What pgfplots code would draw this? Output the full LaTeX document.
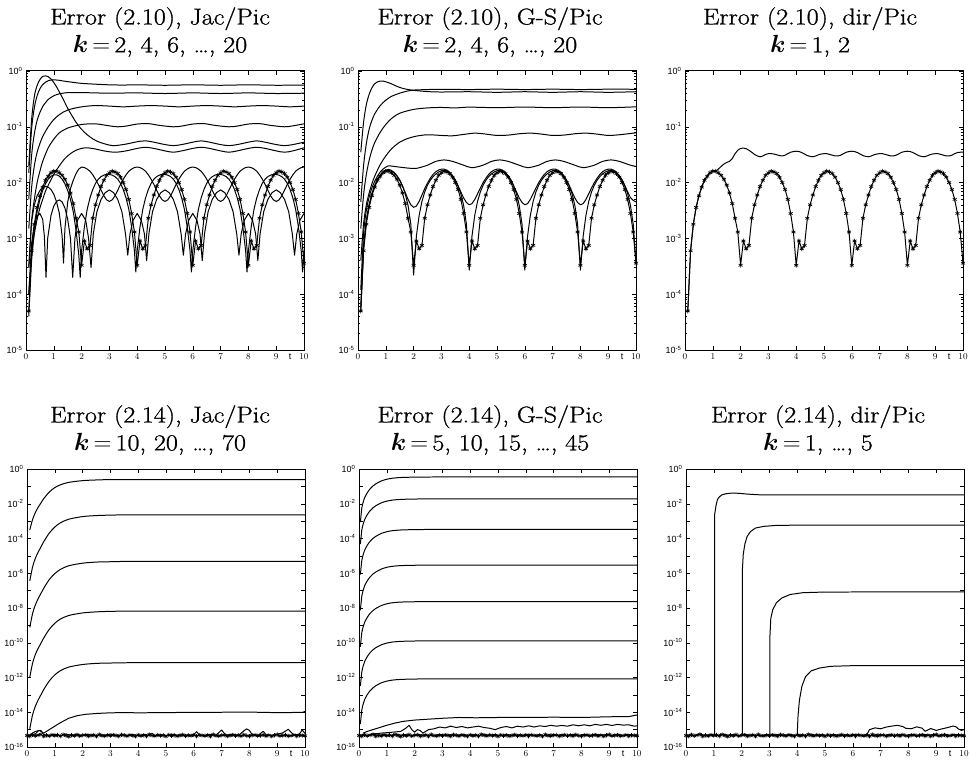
\documentclass[border=0pt]{standalone}
\usepackage{amsmath}
\usepackage{fontspec}
\newfontfamily\ticksans{Liberation Sans}
\newfontfamily\titlefont[FakeStretch=1.14, FakeBold=1.0]{Latin Modern Roman}
\usepackage{pgfplots}
\usepackage{pgfplotstable}
\pgfplotsset{compat=1.18}

% decade label, MATLAB style
\newcommand{\ex}[1]{10\textsuperscript{#1}}
\newcommand{\kk}{$\boldsymbol{k}\,{=}\,$}

\pgfplotsset{
  errpanel/.style={
    scale only axis, width=278bp,
    xmin=0, xmax=10,
    xtick={0,1,2,3,4,5,6,7,8,9,10},
    extra x ticks={9.5}, extra x tick labels={t},
    extra x tick style={major tick length=0pt},
    tick align=inside, xtick pos=both, ytick pos=both,
    major tick length=4bp, minor tick length=2bp,
    tick style={black, line width=0.5pt},
    axis line style={line width=1pt},
    tick label style={font=\ticksans\fontsize{9}{10}\selectfont},
    title style={at={(0.5,1)}, anchor=south, yshift=8bp, inner sep=0pt,
                 font=\titlefont\fontsize{23}{28}\selectfont, align=center},
  },
  errtop/.style={errpanel, height=279bp,
    ymin=1e-5, ymax=1,
    ytick={1e-5,1e-4,1e-3,1e-2,1e-1,1},
    yticklabels={\ex{-5},\ex{-4},\ex{-3},\ex{-2},\ex{-1},\ex{0}},
    minor ytick={2e-5,3e-5,4e-5,5e-5,6e-5,7e-5,8e-5,9e-5,
                 2e-4,3e-4,4e-4,5e-4,6e-4,7e-4,8e-4,9e-4,
                 2e-3,3e-3,4e-3,5e-3,6e-3,7e-3,8e-3,9e-3,
                 2e-2,3e-2,4e-2,5e-2,6e-2,7e-2,8e-2,9e-2,
                 0.2,0.3,0.4,0.5,0.6,0.7,0.8,0.9},
  },
  errbot/.style={errpanel, height=278bp,
    ymin=1e-16, ymax=1,
    ytick={1e-16,1e-15,1e-14,1e-13,1e-12,1e-11,1e-10,1e-9,1e-8,1e-7,1e-6,1e-5,1e-4,1e-3,1e-2,1e-1,1},
    yticklabels={\ex{-16},{},\ex{-14},{},\ex{-12},{},\ex{-10},{},\ex{-8},{},\ex{-6},{},\ex{-4},{},\ex{-2},{},\ex{0}},
    yminorticks=false,
  },
  crv/.style={black, line width=1pt, line join=round, no markers},
  starcrv/.style={black, line width=1pt, mark=asterisk, mark size=2.3pt,
                  mark options={line width=0.65pt}},
  noisestar/.style={black, line width=1pt, mark=asterisk, mark size=2.1pt,
                  mark options={line width=0.7pt}},
}

% limit error of the periodic solution, (2.10)
\pgfplotstableread{
t e
0.1 5e-5
0.2 6e-4
0.3 1.8e-3
0.4 3.6e-3
0.5 5.8e-3
0.6 8.3e-3
0.7 1.1e-2
0.8 1.3e-2
0.9 1.5e-2
1.0 1.6e-2
1.1 1.6e-2
1.2 1.5e-2
1.3 1.35e-2
1.4 1.15e-2
1.5 9e-3
1.6 6.5e-3
1.7 4.2e-3
1.8 2.3e-3
1.9 1.3e-3
2.0 3.3e-4
2.1 9e-4
2.2 6.5e-4
2.3 7.5e-4
2.4 2.3e-3
2.5 4.0e-3
2.6 6.0e-3
2.7 8.5e-3
2.8 1.1e-2
2.9 1.35e-2
3.0 1.5e-2
3.1 1.6e-2
3.2 1.55e-2
3.3 1.45e-2
3.4 1.25e-2
3.5 1.0e-2
3.6 7.5e-3
3.7 5.0e-3
3.8 2.8e-3
3.9 1.3e-3
4.0 3.3e-4
4.1 9e-4
4.2 6.5e-4
4.3 7.5e-4
4.4 2.3e-3
4.5 4.0e-3
4.6 6.0e-3
4.7 8.5e-3
4.8 1.1e-2
4.9 1.35e-2
5.0 1.5e-2
5.1 1.6e-2
5.2 1.55e-2
5.3 1.45e-2
5.4 1.25e-2
5.5 1.0e-2
5.6 7.5e-3
5.7 5.0e-3
5.8 2.8e-3
5.9 1.3e-3
6.0 3.3e-4
6.1 9e-4
6.2 6.5e-4
6.3 7.5e-4
6.4 2.3e-3
6.5 4.0e-3
6.6 6.0e-3
6.7 8.5e-3
6.8 1.1e-2
6.9 1.35e-2
7.0 1.5e-2
7.1 1.6e-2
7.2 1.55e-2
7.3 1.45e-2
7.4 1.25e-2
7.5 1.0e-2
7.6 7.5e-3
7.7 5.0e-3
7.8 2.8e-3
7.9 1.3e-3
8.0 3.3e-4
8.1 9e-4
8.2 6.5e-4
8.3 7.5e-4
8.4 2.3e-3
8.5 4.0e-3
8.6 6.0e-3
8.7 8.5e-3
8.8 1.1e-2
8.9 1.35e-2
9.0 1.5e-2
9.1 1.6e-2
9.2 1.55e-2
9.3 1.45e-2
9.4 1.25e-2
9.5 1.0e-2
9.6 7.5e-3
9.7 5.0e-3
9.8 2.8e-3
9.9 1.3e-3
10.0 3.6e-4
}\starerr

% round-off floor, (2.14)
\pgfplotstableread{
t e
0.0 4.6e-16
0.1 4.2e-16
0.2 5.1e-16
0.3 4.4e-16
0.4 4.8e-16
0.5 5.3e-16
0.6 4.1e-16
0.7 4.7e-16
0.8 4.3e-16
0.9 5.0e-16
1.0 4.5e-16
1.1 4.9e-16
1.2 4.2e-16
1.3 5.2e-16
1.4 4.6e-16
1.5 4.0e-16
1.6 4.8e-16
1.7 4.4e-16
1.8 5.1e-16
1.9 4.3e-16
2.0 4.7e-16
2.1 5.0e-16
2.2 4.2e-16
2.3 4.6e-16
2.4 4.9e-16
2.5 4.1e-16
2.6 5.2e-16
2.7 4.5e-16
2.8 4.3e-16
2.9 4.8e-16
3.0 4.4e-16
3.1 5.0e-16
3.2 4.6e-16
3.3 4.2e-16
3.4 5.1e-16
3.5 4.7e-16
3.6 4.3e-16
3.7 4.9e-16
3.8 4.5e-16
3.9 4.1e-16
4.0 5.0e-16
4.1 4.4e-16
4.2 4.8e-16
4.3 4.2e-16
4.4 5.3e-16
4.5 4.6e-16
4.6 4.3e-16
4.7 4.9e-16
4.8 4.5e-16
4.9 4.7e-16
5.0 4.1e-16
5.1 5.0e-16
5.2 4.4e-16
5.3 4.8e-16
5.4 4.2e-16
5.5 4.6e-16
5.6 5.1e-16
5.7 4.3e-16
5.8 4.7e-16
5.9 4.5e-16
6.0 4.9e-16
6.1 4.2e-16
6.2 5.0e-16
6.3 4.6e-16
6.4 4.4e-16
6.5 4.8e-16
6.6 4.1e-16
6.7 5.2e-16
6.8 4.5e-16
6.9 4.3e-16
7.0 4.7e-16
7.1 4.9e-16
7.2 4.2e-16
7.3 4.6e-16
7.4 5.0e-16
7.5 4.4e-16
7.6 4.8e-16
7.7 4.3e-16
7.8 5.1e-16
7.9 4.5e-16
8.0 4.2e-16
8.1 4.7e-16
8.2 4.9e-16
8.3 4.4e-16
8.4 4.6e-16
8.5 5.0e-16
8.6 4.3e-16
8.7 4.8e-16
8.8 4.1e-16
8.9 4.7e-16
9.0 5.2e-16
9.1 4.4e-16
9.2 4.6e-16
9.3 4.9e-16
9.4 4.3e-16
9.5 4.5e-16
9.6 5.0e-16
9.7 4.2e-16
9.8 4.8e-16
9.9 4.6e-16
10.0 4.4e-16
}\floorerr

\pgfplotstableread{
t e
0.1 5.2e-16
0.3 4.5e-16
0.5 5.6e-16
0.7 4.6e-16
0.9 5.3e-16
1.1 4.4e-16
1.3 5.5e-16
1.5 4.8e-16
1.7 5.2e-16
1.9 4.4e-16
2.1 5.6e-16
2.3 4.6e-16
2.5 5.0e-16
2.7 4.5e-16
2.9 5.4e-16
3.1 4.7e-16
3.3 5.2e-16
3.5 4.4e-16
3.7 5.5e-16
3.9 4.8e-16
4.1 5.1e-16
4.3 4.5e-16
4.5 5.6e-16
4.7 4.6e-16
4.9 5.3e-16
5.1 4.4e-16
5.3 5.4e-16
5.5 4.7e-16
5.7 5.1e-16
5.9 4.5e-16
6.1 5.5e-16
6.3 4.6e-16
6.5 5.2e-16
6.7 4.4e-16
6.9 5.6e-16
7.1 4.7e-16
7.3 5.1e-16
7.5 4.5e-16
7.7 5.4e-16
7.9 4.6e-16
8.1 5.3e-16
8.3 4.4e-16
8.5 5.5e-16
8.7 4.8e-16
8.9 5.2e-16
9.1 4.5e-16
9.3 5.6e-16
9.5 4.6e-16
9.7 5.3e-16
9.9 4.7e-16
10.0 5.0e-16
}\floorline

\begin{document}
\begin{tikzpicture}
\useasboundingbox (0,0) rectangle (970bp,762bp);

%================ (2.10) Jacobi ================
\begin{axis}[errtop, ymode=log, at={(26bp,412bp)}, anchor=south west,
  title={Error (2.10), Jac/Pic\\\kk 2, 4, 6, \ldots, 20},
  title style={xshift=-5bp}]
\addplot[crv, smooth] coordinates {(0.1,1.5e-2)(0.2,0.09)(0.3,0.22)(0.4,0.36)(0.5,0.48)(0.6,0.57)(0.7,0.63)(0.8,0.67)(0.9,0.69)(1.0,0.695)(1.2,0.68)(1.4,0.655)(1.7,0.625)(2.0,0.6)(2.5,0.58)(3.0,0.565)(3.5,0.56)(4,0.565)(5,0.555)(6,0.565)(7,0.555)(8,0.565)(9,0.555)(10,0.56)};
\addplot[crv, smooth] coordinates {(0.1,5e-3)(0.2,0.03)(0.3,0.075)(0.4,0.13)(0.5,0.18)(0.6,0.23)(0.7,0.27)(0.8,0.31)(1.0,0.36)(1.2,0.39)(1.5,0.41)(2.0,0.41)(2.5,0.405)(3,0.4)(4,0.405)(5,0.395)(6,0.405)(7,0.395)(8,0.405)(9,0.395)(10,0.4)};
\addplot[crv, smooth] coordinates {(0.1,1.5e-3)(0.2,8e-3)(0.3,0.02)(0.4,0.035)(0.5,0.05)(0.6,0.067)(0.8,0.1)(1.0,0.135)(1.2,0.165)(1.5,0.2)(2.0,0.228)(2.5,0.24)(3.0,0.235)(3.5,0.228)(4.0,0.235)(4.5,0.24)(5.0,0.235)(5.5,0.228)(6,0.235)(6.5,0.24)(7,0.235)(7.5,0.228)(8,0.235)(8.5,0.24)(9,0.235)(9.5,0.228)(10,0.235)};
\addplot[crv, smooth] coordinates {(0.1,3e-4)(0.2,2e-3)(0.3,5e-3)(0.4,0.01)(0.5,0.016)(0.6,0.024)(0.8,0.042)(1.0,0.06)(1.2,0.078)(1.5,0.095)(2.0,0.11)(2.5,0.113)(3.0,0.104)(3.3,0.1)(3.6,0.103)(4.0,0.112)(4.4,0.114)(4.8,0.106)(5.3,0.1)(5.6,0.103)(6.0,0.112)(6.4,0.114)(6.8,0.106)(7.3,0.1)(7.6,0.103)(8.0,0.112)(8.4,0.114)(8.8,0.106)(9.3,0.1)(9.6,0.104)(10,0.113)};
\addplot[crv, smooth] coordinates {(0.1,0.02)(0.2,0.13)(0.3,0.35)(0.4,0.55)(0.5,0.7)(0.6,0.8)(0.7,0.82)(0.8,0.79)(0.9,0.72)(1.0,0.62)(1.1,0.52)(1.2,0.42)(1.3,0.34)(1.4,0.27)(1.5,0.215)(1.6,0.175)(1.7,0.145)(1.8,0.12)(2.0,0.09)(2.2,0.072)(2.4,0.061)(2.6,0.054)(2.8,0.05)(3.0,0.047)(3.2,0.046)(3.6,0.049)(4.0,0.054)(4.3,0.056)(4.6,0.053)(5.0,0.048)(5.3,0.046)(5.6,0.048)(6.0,0.053)(6.3,0.056)(6.6,0.053)(7.0,0.048)(7.3,0.046)(7.6,0.048)(8.0,0.053)(8.3,0.056)(8.6,0.053)(9.0,0.048)(9.3,0.046)(9.6,0.048)(10,0.053)};
\addplot[crv, smooth] coordinates {(0.1,1e-4)(0.2,5e-4)(0.3,1.2e-3)(0.4,2.2e-3)(0.5,3.5e-3)(0.6,5e-3)(0.7,7e-3)(0.8,9e-3)(1.0,0.014)(1.2,0.02)(1.4,0.027)(1.6,0.033)(1.8,0.038)(2.0,0.041)(2.2,0.042)(2.5,0.04)(2.8,0.037)(3.2,0.035)(3.6,0.037)(4.0,0.041)(4.3,0.043)(4.6,0.041)(5.0,0.037)(5.3,0.035)(5.6,0.037)(6.0,0.041)(6.3,0.043)(6.6,0.041)(7.0,0.037)(7.3,0.035)(7.6,0.037)(8.0,0.041)(8.3,0.043)(8.6,0.041)(9.0,0.037)(9.3,0.035)(9.6,0.037)(10,0.042)};
\addplot[crv] coordinates {(0.1,3e-4)(0.2,2e-3)(0.3,4e-3)(0.4,5.8e-3)(0.5,7.2e-3)(0.6,8.2e-3)(0.7,8.5e-3)(0.8,8.3e-3)(0.9,7.5e-3)(1.0,6.2e-3)(1.1,4.5e-3)(1.2,2.8e-3)(1.3,1.1e-3)(1.35,3.6e-4)(1.4,1.5e-3)(1.5,4.5e-3)(1.6,7.8e-3)(1.7,0.011)(1.8,0.0145)(1.9,0.0175)(2.0,0.019)
(2.1,0.0186)(2.2,0.0175)(2.3,0.016)(2.4,0.0138)(2.5,0.0115)(2.6,0.0093)(2.7,0.0073)(2.8,0.0058)(2.9,0.0049)(3.0,0.0046)(3.1,0.0049)(3.2,0.0058)(3.3,0.0073)(3.4,0.0093)(3.5,0.0115)(3.6,0.0138)(3.7,0.016)(3.8,0.0175)(3.9,0.0186)(4.0,0.019)
(4.1,0.0186)(4.2,0.0175)(4.3,0.016)(4.4,0.0138)(4.5,0.0115)(4.6,0.0093)(4.7,0.0073)(4.8,0.0058)(4.9,0.0049)(5.0,0.0046)(5.1,0.0049)(5.2,0.0058)(5.3,0.0073)(5.4,0.0093)(5.5,0.0115)(5.6,0.0138)(5.7,0.016)(5.8,0.0175)(5.9,0.0186)(6.0,0.019)
(6.1,0.0186)(6.2,0.0175)(6.3,0.016)(6.4,0.0138)(6.5,0.0115)(6.6,0.0093)(6.7,0.0073)(6.8,0.0058)(6.9,0.0049)(7.0,0.0046)(7.1,0.0049)(7.2,0.0058)(7.3,0.0073)(7.4,0.0093)(7.5,0.0115)(7.6,0.0138)(7.7,0.016)(7.8,0.0175)(7.9,0.0186)(8.0,0.019)
(8.1,0.0186)(8.2,0.0175)(8.3,0.016)(8.4,0.0138)(8.5,0.0115)(8.6,0.0093)(8.7,0.0073)(8.8,0.0058)(8.9,0.0049)(9.0,0.0046)(9.1,0.0049)(9.2,0.0058)(9.3,0.0073)(9.4,0.0093)(9.5,0.0115)(9.6,0.0138)(9.7,0.016)(9.8,0.0175)(9.9,0.0186)(10.0,0.019)};
\addplot[crv] coordinates {(0.1,1e-4)(0.2,8e-4)(0.3,1.8e-3)(0.4,2.5e-3)(0.5,2.8e-3)(0.6,2.2e-3)(0.66,1.1e-3)(0.72,2e-4)(0.78,1e-3)(0.9,2.6e-3)(1.0,3.8e-3)(1.1,4.6e-3)(1.2,4.9e-3)(1.3,4.5e-3)(1.4,3.5e-3)(1.5,2.2e-3)(1.6,1e-3)(1.68,2e-4)(1.76,1e-3)(1.85,2.1e-3)(2.0,2.8e-3)(2.15,2.1e-3)(2.25,1e-3)(2.34,3e-4)
(2.42,1.2e-3)(2.55,3e-3)(2.7,5e-3)(2.85,6.6e-3)(3.0,7.4e-3)(3.15,6.6e-3)(3.3,5e-3)(3.45,3e-3)(3.58,1.2e-3)(3.66,5e-4)(3.74,1.2e-3)(3.85,2.1e-3)(4.0,2.8e-3)(4.15,2.1e-3)(4.26,1.2e-3)(4.34,4e-4)
(4.42,1.2e-3)(4.55,3e-3)(4.7,5e-3)(4.85,6.6e-3)(5.0,7.4e-3)(5.15,6.6e-3)(5.3,5e-3)(5.45,3e-3)(5.58,1.2e-3)(5.66,5e-4)(5.74,1.2e-3)(5.85,2.1e-3)(6.0,2.8e-3)(6.15,2.1e-3)(6.26,1.2e-3)(6.34,4e-4)
(6.42,1.2e-3)(6.55,3e-3)(6.7,5e-3)(6.85,6.6e-3)(7.0,7.4e-3)(7.15,6.6e-3)(7.3,5e-3)(7.45,3e-3)(7.58,1.2e-3)(7.66,5e-4)(7.74,1.2e-3)(7.85,2.1e-3)(8.0,2.8e-3)(8.15,2.1e-3)(8.26,1.2e-3)(8.34,4e-4)
(8.42,1.2e-3)(8.55,3e-3)(8.7,5e-3)(8.85,6.6e-3)(9.0,7.4e-3)(9.15,6.6e-3)(9.3,5e-3)(9.45,3e-3)(9.58,1.2e-3)(9.66,5e-4)(9.74,1.2e-3)(9.85,2.1e-3)(10.0,2.8e-3)};
\addplot[crv] coordinates {(0.1,4e-5)(0.2,4e-4)(0.3,1.4e-3)(0.4,3e-3)(0.5,5e-3)(0.6,7.2e-3)(0.7,9.5e-3)(0.8,1.15e-2)(0.9,1.3e-2)(1.0,1.38e-2)(1.1,1.38e-2)(1.2,1.3e-2)(1.3,1.15e-2)(1.4,9.5e-3)(1.5,7.2e-3)(1.6,5e-3)(1.7,3e-3)(1.8,1.4e-3)(1.9,5e-4)(1.95,2e-4)(2.0,6e-4)
(2.1,1.6e-3)(2.2,3.3e-3)(2.3,5.3e-3)(2.4,7.5e-3)(2.5,9.7e-3)(2.6,1.15e-2)(2.7,1.28e-2)(2.8,1.36e-2)(2.9,1.4e-2)(3.0,1.4e-2)(3.1,1.36e-2)(3.2,1.28e-2)(3.3,1.15e-2)(3.4,9.7e-3)(3.5,7.5e-3)(3.6,5.3e-3)(3.7,3.3e-3)(3.8,1.6e-3)(3.9,6e-4)(3.95,2.5e-4)(4.0,6e-4)
(4.1,1.6e-3)(4.2,3.3e-3)(4.3,5.3e-3)(4.4,7.5e-3)(4.5,9.7e-3)(4.6,1.15e-2)(4.7,1.28e-2)(4.8,1.36e-2)(4.9,1.4e-2)(5.0,1.4e-2)(5.1,1.36e-2)(5.2,1.28e-2)(5.3,1.15e-2)(5.4,9.7e-3)(5.5,7.5e-3)(5.6,5.3e-3)(5.7,3.3e-3)(5.8,1.6e-3)(5.9,6e-4)(5.95,2.5e-4)(6.0,6e-4)
(6.1,1.6e-3)(6.2,3.3e-3)(6.3,5.3e-3)(6.4,7.5e-3)(6.5,9.7e-3)(6.6,1.15e-2)(6.7,1.28e-2)(6.8,1.36e-2)(6.9,1.4e-2)(7.0,1.4e-2)(7.1,1.36e-2)(7.2,1.28e-2)(7.3,1.15e-2)(7.4,9.7e-3)(7.5,7.5e-3)(7.6,5.3e-3)(7.7,3.3e-3)(7.8,1.6e-3)(7.9,6e-4)(7.95,2.5e-4)(8.0,6e-4)
(8.1,1.6e-3)(8.2,3.3e-3)(8.3,5.3e-3)(8.4,7.5e-3)(8.5,9.7e-3)(8.6,1.15e-2)(8.7,1.28e-2)(8.8,1.36e-2)(8.9,1.4e-2)(9.0,1.4e-2)(9.1,1.36e-2)(9.2,1.28e-2)(9.3,1.15e-2)(9.4,9.7e-3)(9.5,7.5e-3)(9.6,5.3e-3)(9.7,3.3e-3)(9.8,1.6e-3)(9.9,6e-4)(9.95,2.5e-4)(10.0,6e-4)};
\addplot[starcrv] table[x=t, y=e] {\starerr};
\end{axis}

%================ (2.10) Gauss-Seidel ================
\begin{axis}[errtop, ymode=log, at={(358bp,412bp)}, anchor=south west,
  title={Error (2.10), G-S/Pic\\\kk 2, 4, 6, \ldots, 20},
  title style={xshift=-7bp}]
\addplot[crv, smooth] coordinates {(0.1,0.035)(0.2,0.12)(0.3,0.25)(0.4,0.38)(0.5,0.5)(0.6,0.59)(0.7,0.64)(0.8,0.66)(0.9,0.66)(1.0,0.64)(1.2,0.59)(1.4,0.53)(1.6,0.49)(1.8,0.465)(2.0,0.45)(2.3,0.435)(2.6,0.425)(3.0,0.42)(4,0.425)(5,0.415)(6,0.425)(7,0.415)(8,0.425)(9,0.415)(10,0.425)};
\addplot[crv, smooth] coordinates {(0.1,4.5e-3)(0.2,0.02)(0.3,0.05)(0.4,0.09)(0.5,0.13)(0.6,0.17)(0.8,0.24)(1.0,0.3)(1.2,0.35)(1.5,0.4)(1.8,0.44)(2.0,0.455)(2.5,0.465)(3,0.47)(4,0.465)(5,0.472)(6,0.465)(7,0.472)(8,0.465)(9,0.472)(10,0.47)};
\addplot[crv, smooth] coordinates {(0.1,1.5e-3)(0.2,6e-3)(0.3,0.014)(0.4,0.025)(0.5,0.038)(0.6,0.052)(0.8,0.08)(1.0,0.11)(1.2,0.14)(1.5,0.175)(2.0,0.205)(2.5,0.218)(3.0,0.222)(3.5,0.218)(4,0.225)(5,0.22)(6,0.226)(7,0.22)(8,0.226)(9,0.22)(10,0.228)};
\addplot[crv, smooth] coordinates {(0.1,4e-4)(0.2,1.8e-3)(0.3,4e-3)(0.4,6.5e-3)(0.5,9.5e-3)(0.6,0.013)(0.8,0.021)(1.0,0.03)(1.2,0.04)(1.5,0.053)(1.8,0.062)(2.1,0.068)(2.5,0.072)(3.0,0.07)(3.4,0.069)(3.8,0.073)(4.2,0.077)(4.6,0.074)(5.0,0.07)(5.4,0.071)(5.8,0.075)(6.2,0.077)(6.6,0.074)(7.0,0.07)(7.4,0.071)(7.8,0.075)(8.2,0.077)(8.6,0.074)(9.0,0.07)(9.4,0.072)(10,0.078)};
\addplot[crv, smooth] coordinates {(0.1,1.2e-4)(0.2,1.2e-3)(0.3,3.2e-3)(0.4,5.5e-3)(0.5,8e-3)(0.6,0.0105)(0.7,0.013)(0.8,0.0155)(0.9,0.0175)(1.0,0.019)(1.1,0.02)(1.4,0.0192)(1.8,0.0182)(2.1,0.018)(2.5,0.0205)(2.8,0.024)(3.1,0.0255)(3.4,0.024)(3.8,0.0205)(4.1,0.0185)(4.5,0.0205)(4.8,0.024)(5.1,0.0255)(5.4,0.024)(5.8,0.0205)(6.1,0.0185)(6.5,0.0205)(6.8,0.024)(7.1,0.0255)(7.4,0.024)(7.8,0.0205)(8.1,0.0185)(8.5,0.0205)(8.8,0.024)(9.1,0.0255)(9.4,0.024)(9.8,0.0205)(10,0.0195)};
\addplot[crv] coordinates {(0.1,6e-5)(0.2,7e-4)(0.3,2.1e-3)(0.4,4e-3)(0.5,6.3e-3)(0.6,8.8e-3)(0.7,1.15e-2)(0.8,1.38e-2)(0.9,1.57e-2)(1.0,1.68e-2)(1.1,1.72e-2)(1.2,1.66e-2)(1.3,1.52e-2)(1.4,1.32e-2)(1.5,1.1e-2)(1.6,8.7e-3)(1.7,6.6e-3)(1.8,5e-3)(1.9,4e-3)(2.0,3.6e-3)
(2.1,3.8e-3)(2.2,4.6e-3)(2.3,6e-3)(2.4,7.8e-3)(2.5,9.8e-3)(2.6,1.2e-2)(2.7,1.4e-2)(2.8,1.57e-2)(2.9,1.68e-2)(3.0,1.74e-2)(3.1,1.74e-2)(3.2,1.66e-2)(3.3,1.52e-2)(3.4,1.32e-2)(3.5,1.1e-2)(3.6,8.7e-3)(3.7,6.8e-3)(3.8,5.3e-3)(3.9,4.4e-3)(4.0,4e-3)
(4.1,4.2e-3)(4.2,5e-3)(4.3,6.3e-3)(4.4,8e-3)(4.5,1e-2)(4.6,1.2e-2)(4.7,1.4e-2)(4.8,1.57e-2)(4.9,1.68e-2)(5.0,1.74e-2)(5.1,1.74e-2)(5.2,1.66e-2)(5.3,1.52e-2)(5.4,1.32e-2)(5.5,1.1e-2)(5.6,8.7e-3)(5.7,6.8e-3)(5.8,5.3e-3)(5.9,4.4e-3)(6.0,4e-3)
(6.1,4.2e-3)(6.2,5e-3)(6.3,6.3e-3)(6.4,8e-3)(6.5,1e-2)(6.6,1.2e-2)(6.7,1.4e-2)(6.8,1.57e-2)(6.9,1.68e-2)(7.0,1.74e-2)(7.1,1.74e-2)(7.2,1.66e-2)(7.3,1.52e-2)(7.4,1.32e-2)(7.5,1.1e-2)(7.6,8.7e-3)(7.7,6.8e-3)(7.8,5.3e-3)(7.9,4.4e-3)(8.0,4e-3)
(8.1,4.2e-3)(8.2,5e-3)(8.3,6.3e-3)(8.4,8e-3)(8.5,1e-2)(8.6,1.2e-2)(8.7,1.4e-2)(8.8,1.57e-2)(8.9,1.68e-2)(9.0,1.74e-2)(9.1,1.74e-2)(9.2,1.66e-2)(9.3,1.52e-2)(9.4,1.32e-2)(9.5,1.1e-2)(9.6,8.7e-3)(9.7,6.8e-3)(9.8,5.4e-3)(9.9,4.8e-3)(10.0,4.5e-3)};
\addplot[crv] coordinates {(0.1,5e-5)(0.2,7e-4)(0.3,2.1e-3)(0.4,4e-3)(0.5,6.3e-3)(0.6,8.8e-3)(0.7,1.12e-2)(0.8,1.33e-2)(0.9,1.5e-2)(1.0,1.6e-2)(1.1,1.65e-2)(1.2,1.6e-2)(1.3,1.5e-2)(1.4,1.33e-2)(1.5,1.12e-2)(1.6,8.8e-3)(1.7,6.3e-3)(1.8,3.9e-3)(1.9,1.8e-3)(2.0,2.2e-4)
(2.1,1.1e-3)(2.2,2.6e-3)(2.3,4.6e-3)(2.4,6.8e-3)(2.5,9e-3)(2.6,1.1e-2)(2.7,1.28e-2)(2.8,1.43e-2)(2.9,1.55e-2)(3.0,1.63e-2)(3.1,1.65e-2)(3.2,1.6e-2)(3.3,1.5e-2)(3.4,1.33e-2)(3.5,1.12e-2)(3.6,8.8e-3)(3.7,6.3e-3)(3.8,3.9e-3)(3.9,1.8e-3)(4.0,2.7e-4)
(4.1,1.1e-3)(4.2,2.6e-3)(4.3,4.6e-3)(4.4,6.8e-3)(4.5,9e-3)(4.6,1.1e-2)(4.7,1.28e-2)(4.8,1.43e-2)(4.9,1.55e-2)(5.0,1.63e-2)(5.1,1.65e-2)(5.2,1.6e-2)(5.3,1.5e-2)(5.4,1.33e-2)(5.5,1.12e-2)(5.6,8.8e-3)(5.7,6.3e-3)(5.8,3.9e-3)(5.9,1.8e-3)(6.0,2.7e-4)
(6.1,1.1e-3)(6.2,2.6e-3)(6.3,4.6e-3)(6.4,6.8e-3)(6.5,9e-3)(6.6,1.1e-2)(6.7,1.28e-2)(6.8,1.43e-2)(6.9,1.55e-2)(7.0,1.63e-2)(7.1,1.65e-2)(7.2,1.6e-2)(7.3,1.5e-2)(7.4,1.33e-2)(7.5,1.12e-2)(7.6,8.8e-3)(7.7,6.3e-3)(7.8,3.9e-3)(7.9,1.8e-3)(8.0,2.7e-4)
(8.1,1.1e-3)(8.2,2.6e-3)(8.3,4.6e-3)(8.4,6.8e-3)(8.5,9e-3)(8.6,1.1e-2)(8.7,1.28e-2)(8.8,1.43e-2)(8.9,1.55e-2)(9.0,1.63e-2)(9.1,1.65e-2)(9.2,1.6e-2)(9.3,1.5e-2)(9.4,1.33e-2)(9.5,1.12e-2)(9.6,8.8e-3)(9.7,6.3e-3)(9.8,3.9e-3)(9.9,1.8e-3)(10.0,3.5e-4)};
\addplot[starcrv] table[x=t, y=e] {\starerr};
\end{axis}

%================ (2.10) direct ================
\begin{axis}[errtop, ymode=log, at={(685bp,412bp)}, anchor=south west,
  title={Error (2.10), dir/Pic\\\kk 1, 2},
  title style={xshift=-14bp}]
\addplot[crv] coordinates {(0.1,5e-5)(0.2,6e-4)(0.3,1.8e-3)(0.4,3.6e-3)(0.5,5.8e-3)(0.6,8.3e-3)(0.7,1.1e-2)(0.8,1.3e-2)(0.9,1.5e-2)(1.0,1.6e-2)(1.1,1.6e-2)
(1.2,1.75e-2)(1.3,1.95e-2)(1.4,2.15e-2)(1.5,2.3e-2)(1.6,2.4e-2)(1.7,2.7e-2)(1.8,3.3e-2)(1.9,3.8e-2)(2.0,4.1e-2)(2.1,4.15e-2)(2.2,4.05e-2)(2.3,3.8e-2)(2.4,3.5e-2)(2.5,3.2e-2)(2.6,3.0e-2)(2.7,2.9e-2)(2.8,3.0e-2)(2.9,3.2e-2)(3.0,3.3e-2)(3.1,3.3e-2)(3.2,3.25e-2)(3.3,3.15e-2)(3.4,3.05e-2)(3.5,3.0e-2)(3.6,3.1e-2)(3.7,3.3e-2)(3.8,3.5e-2)(3.9,3.6e-2)(4.0,3.65e-2)
(4.1,3.6e-2)(4.2,3.45e-2)(4.3,3.25e-2)(4.4,3.05e-2)(4.5,2.95e-2)(4.6,2.9e-2)(4.7,3.0e-2)(4.8,3.15e-2)(4.9,3.25e-2)(5.0,3.3e-2)(5.1,3.3e-2)(5.2,3.2e-2)(5.3,3.1e-2)(5.4,3.0e-2)(5.5,3.0e-2)(5.6,3.1e-2)(5.7,3.3e-2)(5.8,3.5e-2)(5.9,3.6e-2)(6.0,3.65e-2)
(6.1,3.6e-2)(6.2,3.45e-2)(6.3,3.25e-2)(6.4,3.05e-2)(6.5,2.95e-2)(6.6,2.9e-2)(6.7,3.0e-2)(6.8,3.15e-2)(6.9,3.25e-2)(7.0,3.3e-2)(7.1,3.3e-2)(7.2,3.2e-2)(7.3,3.1e-2)(7.4,3.0e-2)(7.5,3.0e-2)(7.6,3.1e-2)(7.7,3.3e-2)(7.8,3.5e-2)(7.9,3.6e-2)(8.0,3.65e-2)
(8.1,3.6e-2)(8.2,3.45e-2)(8.3,3.25e-2)(8.4,3.05e-2)(8.5,2.95e-2)(8.6,2.9e-2)(8.7,3.0e-2)(8.8,3.15e-2)(8.9,3.25e-2)(9.0,3.3e-2)(9.1,3.3e-2)(9.2,3.2e-2)(9.3,3.1e-2)(9.4,3.0e-2)(9.5,3.0e-2)(9.6,3.1e-2)(9.7,3.3e-2)(9.8,3.45e-2)(9.9,3.5e-2)(10.0,3.5e-2)};
\addplot[starcrv] table[x=t, y=e] {\starerr};
\end{axis}

%================ (2.14) Jacobi ================
\begin{axis}[errbot, ymode=log, at={(27bp,15bp)}, anchor=south west,
  title={Error (2.14), Jac/Pic\\\kk 10, 20, \ldots, 70},
  title style={xshift=-6bp}]
\addplot[crv, smooth] coordinates {(0.1,3.1e-4)(0.2,1.23e-3)(0.3,3.1e-3)(0.4,6.2e-3)(0.5,1.1e-2)(0.6,1.95e-2)(0.8,4.7e-2)(1.0,8.5e-2)(1.2,0.123)(1.5,0.17)(2.0,0.214)(2.5,0.234)(3.0,0.245)(4,0.245)(10,0.245)};
\addplot[crv, smooth] coordinates {(0.1,3.63e-7)(0.2,2.29e-6)(0.3,7.24e-6)(0.4,1.62e-5)(0.5,3.24e-5)(0.6,6.46e-5)(0.8,2.04e-4)(1.0,4.57e-4)(1.2,7.94e-4)(1.5,1.29e-3)(2.0,1.82e-3)(2.5,2.09e-3)(3.0,2.21e-3)(4.0,2.29e-3)(10,2.29e-3)};
\addplot[crv, smooth] coordinates {(0.1,7.6e-10)(0.2,4.8e-9)(0.3,1.5e-8)(0.4,3.4e-8)(0.5,6.8e-8)(0.6,1.35e-7)(0.8,4.3e-7)(1.0,9.5e-7)(1.2,1.66e-6)(1.5,2.7e-6)(2.0,3.8e-6)(2.5,4.4e-6)(3.0,4.6e-6)(4.0,4.8e-6)(10,4.8e-6)};
\addplot[crv, smooth] coordinates {(0.1,1.05e-12)(0.2,6.6e-12)(0.3,2.1e-11)(0.4,4.7e-11)(0.5,9.3e-11)(0.6,1.86e-10)(0.8,5.9e-10)(1.0,1.32e-9)(1.2,2.3e-9)(1.5,3.7e-9)(2.0,5.2e-9)(2.5,6.0e-9)(3.0,6.4e-9)(4.0,6.6e-9)(10,6.6e-9)};
\addplot[crv, smooth] coordinates {(0.1,1.12e-15)(0.2,7.1e-15)(0.3,2.2e-14)(0.4,5.0e-14)(0.5,1e-13)(0.6,2.0e-13)(0.8,6.3e-13)(1.0,1.41e-12)(1.2,2.45e-12)(1.5,3.98e-12)(2.0,5.6e-12)(2.5,6.5e-12)(3.0,6.8e-12)(4.0,7.1e-12)(10,7.1e-12)};
\addplot[crv] coordinates {(0.1,5e-16)(0.3,7.9e-16)(0.45,8.9e-16)(0.6,6.3e-16)(0.8,1e-15)(1.0,1.58e-15)(1.2,2.5e-15)(1.5,4.5e-15)(1.8,6.3e-15)(2.1,7.6e-15)(2.5,8.5e-15)(3.0,9.3e-15)(3.5,9.5e-15)(4,9.3e-15)(5,9.5e-15)(6,1e-14)(7,1e-14)(8,1.02e-14)(9,9.5e-15)(9.9,9.8e-15)(10,1.1e-14)};
\addplot[crv] coordinates {(0.1,4.8e-16)(0.3,5.6e-16)(0.4,8.5e-16)(0.5,9.0e-16)(0.6,5.2e-16)(0.8,4.6e-16)(1.0,5.4e-16)(1.2,4.4e-16)(1.4,5.6e-16)(1.6,4.7e-16)(1.8,5.3e-16)(2.0,4.5e-16)(2.2,5.5e-16)(2.4,4.4e-16)(2.6,5.2e-16)(2.8,4.8e-16)(3.0,5.6e-16)(3.2,4.5e-16)(3.4,5.0e-16)(3.6,4.6e-16)(3.8,5.4e-16)(4.0,4.4e-16)(4.2,5.3e-16)(4.4,4.7e-16)(4.5,6.2e-16)(4.6,4.6e-16)(4.8,5.1e-16)(5.0,4.4e-16)(5.2,5.5e-16)(5.4,4.8e-16)(5.6,5.2e-16)(5.8,4.5e-16)(6.0,5.3e-16)(6.1,7.6e-16)(6.2,5.0e-16)(6.4,4.6e-16)(6.6,5.4e-16)(6.8,4.8e-16)(7.0,9.5e-16)(7.1,6.0e-16)(7.2,4.7e-16)(7.4,5.5e-16)(7.6,4.5e-16)(7.8,8.5e-16)(7.9,1.1e-15)(8.0,9.0e-16)(8.1,5.2e-16)(8.3,4.6e-16)(8.5,8.0e-16)(8.6,5.0e-16)(8.8,4.7e-16)(9.0,5.4e-16)(9.2,6.5e-16)(9.4,1.05e-15)(9.5,7.0e-16)(9.6,4.9e-16)(9.8,5.6e-16)(9.9,9.5e-16)(10.0,6.0e-16)};
\addplot[noisestar] table[x=t, y=e] {\floorerr};
\end{axis}

%================ (2.14) Gauss-Seidel ================
\begin{axis}[errbot, ymode=log, at={(359bp,15bp)}, anchor=south west,
  title={Error (2.14), G-S/Pic\\\kk 5, 10, 15, \ldots, 45},
  title style={xshift=-8bp}]
\addplot[crv, smooth] coordinates {(0.05,8.7e-4)(0.1,5.5e-3)(0.15,1.23e-2)(0.2,2.19e-2)(0.3,4.37e-2)(0.4,7.24e-2)(0.5,0.105)(0.6,0.138)(0.8,0.204)(1.0,0.257)(1.2,0.295)(1.5,0.324)(2.0,0.339)(3.0,0.347)(10,0.347)};
\addplot[crv, smooth] coordinates {(0.05,4.79e-5)(0.1,3.02e-4)(0.15,6.76e-4)(0.2,1.2e-3)(0.3,2.4e-3)(0.4,3.98e-3)(0.5,5.75e-3)(0.6,7.59e-3)(0.8,1.12e-2)(1.0,1.41e-2)(1.2,1.62e-2)(1.5,1.78e-2)(2.0,1.86e-2)(3.0,1.91e-2)(10,1.91e-2)};
\addplot[crv, smooth] coordinates {(0.05,8.32e-7)(0.1,5.25e-6)(0.15,1.17e-5)(0.2,2.09e-5)(0.3,4.17e-5)(0.4,6.92e-5)(0.5,1e-4)(0.6,1.32e-4)(0.8,1.95e-4)(1.0,2.45e-4)(1.2,2.82e-4)(1.5,3.09e-4)(2.0,3.24e-4)(3.0,3.31e-4)(10,3.31e-4)};
\addplot[crv, smooth] coordinates {(0.05,7.41e-9)(0.1,4.68e-8)(0.15,1.05e-7)(0.2,1.86e-7)(0.3,3.72e-7)(0.4,6.17e-7)(0.5,8.91e-7)(0.6,1.17e-6)(0.8,1.74e-6)(1.0,2.19e-6)(1.2,2.51e-6)(1.5,2.75e-6)(2.0,2.88e-6)(3.0,2.95e-6)(10,2.95e-6)};
\addplot[crv, smooth] coordinates {(0.05,5.89e-11)(0.1,3.72e-10)(0.15,8.32e-10)(0.2,1.48e-9)(0.3,2.95e-9)(0.4,4.9e-9)(0.5,7.08e-9)(0.6,9.33e-9)(0.8,1.38e-8)(1.0,1.74e-8)(1.2,2.0e-8)(1.5,2.19e-8)(2.0,2.29e-8)(3.0,2.34e-8)(10,2.34e-8)};
\addplot[crv, smooth] coordinates {(0.05,3.24e-13)(0.1,2.04e-12)(0.15,4.57e-12)(0.2,8.13e-12)(0.3,1.62e-11)(0.4,2.69e-11)(0.5,3.89e-11)(0.6,5.13e-11)(0.8,7.59e-11)(1.0,9.55e-11)(1.2,1.1e-10)(1.5,1.2e-10)(2.0,1.26e-10)(3.0,1.29e-10)(10,1.29e-10)};
\addplot[crv, smooth] coordinates {(0.05,2.09e-15)(0.1,1.32e-14)(0.15,2.95e-14)(0.2,5.25e-14)(0.3,1.05e-13)(0.4,1.74e-13)(0.5,2.51e-13)(0.6,3.31e-13)(0.8,4.9e-13)(1.0,6.17e-13)(1.2,7.08e-13)(1.5,7.76e-13)(2.0,8.13e-13)(3.0,8.32e-13)(10,8.32e-13)};
\addplot[crv] coordinates {(0.15,6.3e-16)(0.3,7.9e-16)(0.5,1e-15)(0.8,1.41e-15)(1.0,1.78e-15)(1.3,2.4e-15)(1.6,3e-15)(2.0,3.55e-15)(2.5,4e-15)(3.0,4.5e-15)(3.6,5e-15)(4.2,4.8e-15)(5,5e-15)(6,5e-15)(7,5.2e-15)(8,5e-15)(9,5.5e-15)(9.7,5.6e-15)(10,7e-15)};
\addplot[crv] coordinates {(0.5,5.6e-16)(0.8,6.3e-16)(1.2,7.1e-16)(1.5,7.9e-16)(1.7,1.26e-15)(1.8,1.78e-15)(1.9,1e-15)(2.0,7.1e-16)(2.1,1e-15)(2.2,8.9e-16)(2.3,6.3e-16)(2.5,1e-15)(2.7,1.12e-15)(2.9,1.41e-15)(3.1,1.26e-15)(3.3,1.58e-15)(3.5,1.32e-15)(3.7,1.51e-15)(3.9,1.26e-15)(4.1,1.41e-15)(4.3,1.58e-15)(4.5,1.32e-15)(4.7,1.2e-15)(4.9,1e-15)(5.1,1.32e-15)(5.3,1.51e-15)(5.5,1.26e-15)(5.7,1.58e-15)(5.9,1.41e-15)(6.1,1.66e-15)(6.3,1.41e-15)(6.5,1.66e-15)(6.7,1.51e-15)(6.9,1.78e-15)(7.1,1.58e-15)(7.3,1.74e-15)(7.5,1.58e-15)(7.7,1.9e-15)(7.9,1.66e-15)(8.1,1.9e-15)(8.3,1.66e-15)(8.5,2e-15)(8.7,1.78e-15)(8.9,2e-15)(9.1,1.74e-15)(9.3,2e-15)(9.5,1.82e-15)(9.7,1.9e-15)(9.9,1.58e-15)(10,1.66e-15)};
\addplot[crv] table[x=t, y=e] {\floorline};
\addplot[noisestar] table[x=t, y=e] {\floorerr};
\end{axis}

%================ (2.14) direct ================
\begin{axis}[errbot, ymode=log, at={(686bp,15bp)}, anchor=south west,
  title={Error (2.14), dir/Pic\\\kk 1, \ldots, 5},
  title style={xshift=-7bp}]
\addplot[crv] coordinates {(1.03,5e-16)(1.03,2.4e-3)(1.08,7.9e-3)(1.13,1.74e-2)(1.2,2.5e-2)(1.3,3.3e-2)(1.45,3.8e-2)(1.65,4.1e-2)(1.9,4e-2)(2.2,3.6e-2)(2.6,3.3e-2)(3.0,3.2e-2)(4,3.2e-2)(10,3.2e-2)};
\addplot[crv] coordinates {(2.03,5e-16)(2.03,1.7e-6)(2.06,1.26e-5)(2.12,5e-5)(2.2,1.32e-4)(2.32,2.5e-4)(2.5,4e-4)(2.8,5e-4)(3.2,5.6e-4)(4,5.9e-4)(10,5.9e-4)};
\addplot[crv] coordinates {(3.02,5e-16)(3.02,2.5e-10)(3.05,2.5e-9)(3.12,7.9e-9)(3.25,2e-8)(3.45,3.8e-8)(3.75,6e-8)(4.2,7.6e-8)(5,8.3e-8)(10,8.5e-8)};
\addplot[crv] coordinates {(4.0,5e-16)(4.03,6.3e-15)(4.08,5e-14)(4.17,3.2e-13)(4.3,1.12e-12)(4.5,2.4e-12)(4.8,3.5e-12)(5.2,4.4e-12)(6,4.8e-12)(10,4.8e-12)};
\addplot[crv] coordinates {(6.5,5e-16)(6.6,1e-15)(6.8,1.26e-15)(7.0,1.12e-15)(7.2,1.4e-15)(7.4,1.6e-15)(7.6,1.78e-15)(7.8,1.5e-15)(7.9,1.2e-15)(8.1,1.12e-15)(8.3,1.45e-15)(8.5,1.2e-15)(8.6,8e-16)(8.8,1.15e-15)(9.0,9e-16)(9.2,1.1e-15)(9.4,1.3e-15)(9.6,1.6e-15)(9.7,1.5e-15)(9.8,1.1e-15)(9.9,9e-16)(10.0,1e-15)};
\addplot[crv] table[x=t, y=e] {\floorline};
\addplot[noisestar] table[x=t, y=e] {\floorerr};
\end{axis}
\end{tikzpicture}
\end{document}
